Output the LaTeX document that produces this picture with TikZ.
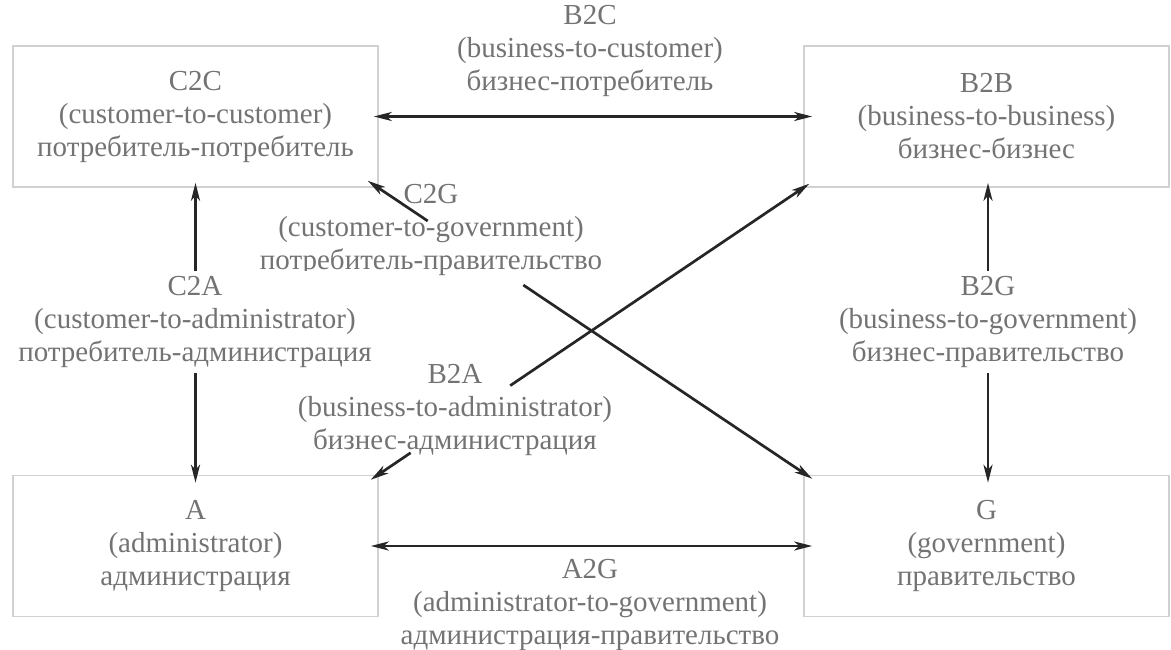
\documentclass[tikz,border=0pt]{standalone}
\usepackage{fontspec}
\setmainfont{Liberation Serif}
\usetikzlibrary{arrows.meta}
\begin{document}
\begin{tikzpicture}[x=1pt,y=-1pt,
  txt/.style={text=black!55, align=center, font=\fontsize{29}{33}\selectfont},
  box/.style={txt, draw=black!18, line width=1.5pt, minimum width=365pt, minimum height=141pt, inner sep=0pt},
  lbl/.style={txt, inner sep=0pt},
  gaplbl/.style={txt, fill=white, inner sep=5pt},
  tip/.tip={Stealth[length=18pt,width=9pt,inset=5pt]},
  conn/.style={draw=black!85, line width=2.7pt, -tip},
  dconn/.style={draw=black!85, line width=2.7pt, tip-tip}
]
\useasboundingbox (0,0) rectangle (1171,650);

% boxes
\node[box] (c2c) at (195.5,116.5) {C2C\\(customer-to-customer)\\потребитель-потребитель};
\node[box] (b2b) at (986.5,116.5) {B2B\\(business-to-business)\\бизнес-бизнес};
\node[box] (a)   at (195.5,546) {A\\(administrator)\\администрация};
\node[box] (g)   at (986.5,546) {G\\(government)\\правительство};

% horizontal connectors
\draw[dconn, shorten <=-5pt, shorten >=-9pt] (c2c.east) -- (b2b.west);
\draw[dconn, shorten <=-8pt, shorten >=-9pt] (a.east) -- (g.west);

% vertical connectors
\draw[dconn, shorten <=-5pt, shorten >=-8pt] (c2c.south) -- (a.north);
\draw[dconn, shorten <=-5pt, shorten >=-8pt] ([xshift=1.5pt]b2b.south) -- ([xshift=1.5pt]g.north);

% diagonal connectors
\coordinate (cgS) at ([shift={(-11,-7)}]c2c.south east);
\coordinate (cgE) at ([shift={(9,4)}]g.north west);
\path (cgS) -- (cgE) coordinate[pos=0.135] (cg1) coordinate[pos=0.35] (cg2);
\draw[conn] (cg1) -- (cgS);
\draw[conn] (cg2) -- (cgE);

\coordinate (baS) at ([shift={(-8,5)}]a.north east);
\coordinate (baE) at ([shift={(6,-4)}]b2b.south west);
\path (baS) -- (baE) coordinate[pos=0.091] (ba1) coordinate[pos=0.318] (ba2);
\draw[conn] (ba1) -- (baS);
\draw[conn] (ba2) -- (baE);

% labels
\node[lbl] (b2c) at (590,51) {B2C\\(business-to-customer)\\бизнес-потребитель};
\node[lbl] (c2g) at (431,230) {C2G\\(customer-to-government)\\потребитель-правительство};
\node[lbl] (b2a) at (455,410) {B2A\\(business-to-administrator)\\бизнес-администрация};
\node[lbl] (a2g) at (590,605) {A2G\\(administrator-to-government)\\администрация-правительство};
\node[gaplbl] (c2a) at (195,322) {C2A\\(customer-to-administrator)\\потребитель-администрация};
\node[gaplbl] (b2g) at (988,322) {B2G\\(business-to-government)\\бизнес-правительство};
\end{tikzpicture}
\end{document}
